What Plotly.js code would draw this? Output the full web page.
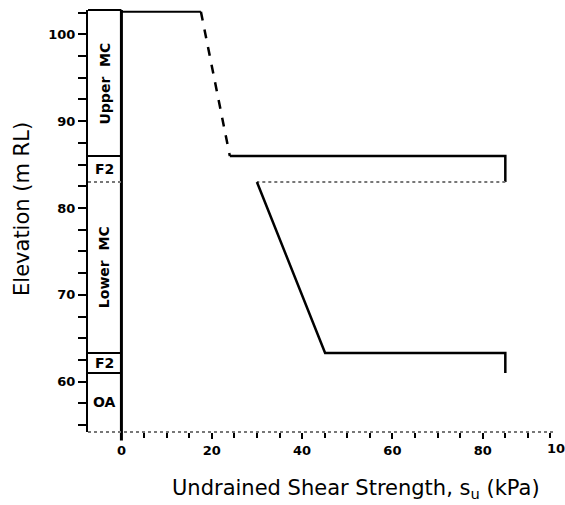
<!DOCTYPE html>
<html>
<head>
<meta charset="utf-8">
<script src="https://cdn.plot.ly/plotly-3.0.1.min.js"></script>
<style>html,body{margin:0;padding:0;background:#fff;}#chart{width:565px;height:505px;}</style>
</head>
<body>
<div id="chart"></div>
<script>
// Soil layers (elevation boundaries, m RL)
const layerNames = ["Upper&nbsp;&nbsp;MC", "F2", "Lower&nbsp;&nbsp;MC", "F2", "OA"];
const layerTops = [102.6, 86.0, 83.0, 63.3, 61.0];
const layerBottoms = [86.0, 83.0, 63.3, 61.0, 54.2];
const layerAngles = [-90, 0, -90, 0, 0];

// Undrained shear strength profile (kPa vs m RL)
const upperSu = [0, 17.6, 24.0, 85.0, 85.0];
const upperElev = [102.6, 102.6, 86.0, 86.0, 83.0];
const lowerSu = [85.0, 30.0, 45.1, 85.0, 85.0];
const lowerElev = [83.0, 83.0, 63.3, 63.3, 61.0];

const xTicks = [0, 20, 40, 60, 80];
const yTicks = [60, 70, 80, 90, 100];

const xMin = -7.4, xMax = 96, yMin = 54.2, yMax = 102.8;
const FONT = 'DejaVu Sans, Verdana, sans-serif';

function seg(xs, ys, a, b, line) {
  return {x: xs.slice(a, b + 1), y: ys.slice(a, b + 1), mode: 'lines', type: 'scatter',
          line: line, hoverinfo: 'skip', showlegend: false};
}
const solid = {color: '#000', width: 2.5};
const traces = [
  seg(upperSu, upperElev, 0, 1, {color: '#000', width: 2}),
  seg(upperSu, upperElev, 1, 2, {color: '#000', width: 2.5, dash: 'dash'}),
  seg(upperSu, upperElev, 2, 4, solid),
  seg(lowerSu, lowerElev, 0, 1, {color: '#777', width: 2, dash: 'dot'}),
  seg(lowerSu, lowerElev, 1, 4, solid)
];

const shapes = [];
shapes.push({type: 'line', xref: 'x', yref: 'paper', x0: xMin, x1: 0, y0: 1, y1: 1, line: {color: '#000', width: 2}});
shapes.push({type: 'line', xref: 'x', yref: 'paper', x0: 0, x1: 0, y0: -0.02, y1: 1, line: {color: '#000', width: 3}});
layerBottoms.slice(0, 4).forEach((b) => {
  const grey = (b === 83.0);
  shapes.push({type: 'line', xref: 'x', yref: 'y', x0: xMin, x1: 0, y0: b, y1: b,
    line: {color: grey ? '#777' : '#000', width: 2, dash: grey ? 'dot' : 'solid'}});
});
shapes.push({type: 'line', xref: 'paper', yref: 'paper', x0: 0, x1: 1, y0: 0, y1: 0, line: {color: '#777', width: 2, dash: 'dot'}});

const annotations = layerNames.map((n, i) => ({
  x: xMin / 2, y: (layerTops[i] + layerBottoms[i]) / 2, xref: 'x', yref: 'y',
  text: n, textangle: layerAngles[i], showarrow: false,
  font: {family: FONT, size: 14, color: '#000', weight: 'bold'}
}));
annotations.push({x: (545 - 88) / 467, y: 0, xref: 'paper', yref: 'paper', xanchor: 'left', yanchor: 'top',
  yshift: -7, text: '100', showarrow: false,
  font: {family: FONT, size: 13, color: '#000', weight: 'bold'}});
// axis titles
annotations.push({x: (356 - 88) / 467, y: (432 - 489) / 420, xref: 'paper', yref: 'paper', xanchor: 'center', yanchor: 'middle',
  text: 'Undrained Shear Strength, s<sub>u</sub> (kPa)', showarrow: false,
  font: {family: FONT, size: 21, color: '#000'}});
annotations.push({x: (22 - 88) / 467, y: (432 - 210) / 420, xref: 'paper', yref: 'paper', xanchor: 'center', yanchor: 'middle',
  text: 'Elevation (m RL)', textangle: -90, showarrow: false,
  font: {family: FONT, size: 21, color: '#000'}});

const layout = {
  width: 565, height: 505,
  margin: {l: 88, r: 10, t: 10, b: 73},
  paper_bgcolor: '#fff', plot_bgcolor: '#fff',
  font: {family: FONT, color: '#000'},
  xaxis: {
    range: [xMin, xMax], tickvals: xTicks, ticktext: xTicks.map(String),
    ticks: 'outside', ticklen: 6, tickwidth: 2, tickcolor: '#000',
    minor: {tickvals: [5,10,15,25,30,35,45,50,55,65,70,75,85,90,95], ticks: 'outside', ticklen: 5, tickwidth: 2, tickcolor: '#000'},
    showgrid: false, zeroline: false, showline: false,
    tickfont: {family: FONT, size: 13, color: '#000', weight: 'bold'}
  },
  yaxis: {
    range: [yMin, yMax], tickvals: yTicks, ticktext: yTicks.map(String),
    ticks: 'outside', ticklen: 8, tickwidth: 2, tickcolor: '#000',
    minor: {dtick: 2.5, tick0: 0, ticks: 'outside', ticklen: 8, tickwidth: 2, tickcolor: '#000'},
    showgrid: false, zeroline: false, showline: true, linecolor: '#000', linewidth: 2,
    tickfont: {family: FONT, size: 13, color: '#000', weight: 'bold'}
  },
  shapes: shapes,
  annotations: annotations
};

Plotly.newPlot('chart', traces, layout, {staticPlot: true, displayModeBar: false});
</script>
</body>
</html>
